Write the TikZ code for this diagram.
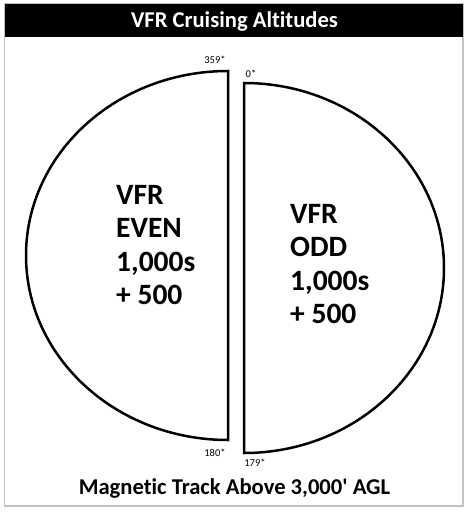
\documentclass[tikz,border=0pt]{standalone}
\usepackage{fontspec}
\setmainfont{Carlito}[Ligatures=NoCommon]
\newfontfamily\plainfont{Carlito}[Ligatures=NoCommon]
\begin{document}
\begin{tikzpicture}[x=1pt,y=-1pt,
  half/.style={draw=black,line width=2.5pt,fill=white},
  big/.style={font=\fontsize{29.5}{33.5}\selectfont\bfseries,align=left,inner sep=0pt},
  deg/.style={font=\fontsize{10.5}{11}\selectfont,inner sep=0pt},
  caption/.style={font=\plainfont\fontsize{22.6}{24}\selectfont\bfseries,inner sep=0pt}]
\useasboundingbox (0,0) rectangle (470,512);
\fill[white] (0,0) rectangle (470,512);
\draw[draw={rgb,255:red,195;green,195;blue,195},line width=1.5pt] (4.5,3.5) rectangle (463,506);
\fill[black] (5,4) rectangle (462.5,37);
\node[caption,text=white] (title) at (234.5,21) {VFR Cruising Altitudes};
% halves
\draw[half] (228,71) arc[start angle=270,end angle=90,x radius=202,y radius=184.5] -- cycle;
\draw[half] (244,83) arc[start angle=-90,end angle=90,x radius=200,y radius=185] -- cycle;
\node[deg] (n359) at (215,60) {359*};
\node[deg] (n0) at (251,74) {0*};
\node[deg] (n180) at (215,453) {180*};
\node[deg] (n179) at (255,463) {179*};
\node[big,anchor=north west] (even) at (116,185) {VFR\\EVEN\\1,000s\\+ 500};
\node[big,anchor=north west] (odd) at (290,204) {VFR\\ODD\\1,000s\\+ 500};
\node[caption] (foot) at (234.5,488) {Magnetic Track Above 3,000' AGL};
\end{tikzpicture}
\end{document}
